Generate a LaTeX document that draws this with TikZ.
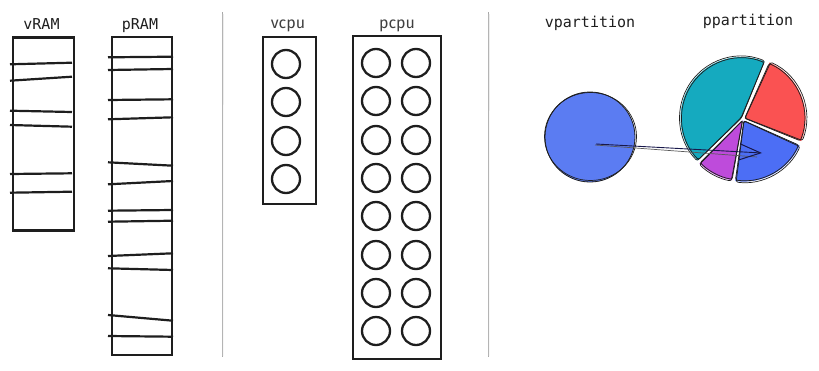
\documentclass[tikz,border=0pt]{standalone}
\usepackage{fontspec}
\setmonofont{DejaVu Sans Mono}
\newfontfamily\cpufont{Fira Sans}
\usetikzlibrary{positioning,arrows.meta}
\definecolor{ink}{HTML}{1E1E1E}
\definecolor{sepgray}{HTML}{A8A8A8}
\definecolor{cyanpart}{HTML}{15AABF}
\definecolor{redpart}{HTML}{FA5252}
\definecolor{bluepart}{HTML}{4C6EF5}
\definecolor{grapepart}{HTML}{BE4BDB}
\definecolor{vpartblue}{HTML}{5B7CF2}
\begin{document}
\begin{tikzpicture}[x=1pt,y=-1pt,
    title/.style={anchor=base,inner sep=0pt,text=ink,font=\ttfamily\fontsize{15}{18}\selectfont},
    cputitle/.style={anchor=base,inner sep=0pt,text=ink!85,font=\cpufont\fontsize{16}{19}\selectfont},
    box/.style={draw=ink,line width=2.4pt,inner sep=0pt},
    cell/.style={ink,line width=2.2pt},
    core/.style={circle,draw=ink,line width=2.3pt,minimum size=28pt,inner sep=0pt},
    sketch/.style={ink,line width=0.7pt,line join=round,rounded corners=2pt}]
  \useasboundingbox (0,0) rectangle (819,370);
  \foreach \x in {222,488} {
    \draw[sepgray,line width=0.8pt] (\x,12) -- (\x,357);
    \draw[sepgray!60,line width=0.6pt] (\x+1,14) -- (\x+0.8,356);
  }
  \node[box,minimum width=61pt,minimum height=193pt] (vram) at (43.5,134) {};
  \node[box,minimum width=60pt,minimum height=318pt] (pram) at (142,196) {};
  \node[title] (vramtitle) at (41.5,29) {vRAM};
  \node[title] (pramtitle) at (140,29) {pRAM};
  \foreach \ya/\yb in {64.3/62.7,80.7/76.7,110.7/112,125/126.7,174/173.3,192.7/191.7}
    \draw[cell] (10,\ya) -- (72,\yb);
  \foreach \ya/\yb in {57.3/56.7,70/69,100/99.3,119.3/117.3,162.3/165.7,184.3/181,
                       210.7/210,221.7/220.7,256/253.3,268.3/270,315/320.7,336/336.7}
    \draw[cell] (108,\ya) -- (173,\yb);
  \node[box,minimum width=53pt,minimum height=167pt] (vcpu) at (289.5,120.5) {};
  \node[box,minimum width=88pt,minimum height=323pt] (pcpu) at (397,197.5) {};
  \node[cputitle] (vcputitle) at (288,28) {vcpu};
  \node[cputitle] (pcputitle) at (397,28) {pcpu};
  \foreach \y [count=\i] in {64,102,141,179}
    \node[core] (vcore\i) at (286,\y) {};
  \foreach \y [count=\i] in {63,101,140,178,216,255,293,331} {
    \node[core] (pcoreA\i) at (376,\y) {};
    \node[core] (pcoreB\i) at (416,\y) {};
  }
  \node[title] (vparttitle) at (590,27) {vpartition};
  \node[title] (pparttitle) at (748,25) {ppartition};
  \node[circle,fill=vpartblue,draw=ink,line width=0.8pt,minimum size=90pt,inner sep=0pt] (vpart) at (590,137) {};
  \draw[sketch] (590.5,136.5) ellipse [x radius=46, y radius=44];
  \foreach \col/\a/\b/\dx/\dy in {cyanpart/-68/-224/-1.5/-1,redpart/-66/22/1.6/-0.7,
                                   bluepart/24/98/0.8/1.6,grapepart/100/135/-0.4/1.2} {
    \fill[\col] (743+\dx,119+\dy) -- ++(\a:61) arc[start angle=\a,end angle=\b,radius=61] -- cycle;
    \draw[sketch] (743+\dx,119+\dy) -- ++(\a:60) arc[start angle=\a,end angle=\b,radius=60] -- cycle;
    \draw[sketch] (743+1.3*\dx,119+1.3*\dy) -- ++(\a+0.6:61.5) arc[start angle=\a+0.6,end angle=\b-0.6,radius=61.5] -- cycle;
  }
  \coordinate (parttip) at (762,153);
  \draw[gray!70!black,line width=0.7pt] ([shift={(5,8)}]vpart.center) -- (757,157);
  \draw[ink!80!blue,line width=0.9pt,-{Straight Barb[length=21pt,width=16pt,line width=1pt]}]
    ([shift={(6,7)}]vpart.center) -- (parttip);
\end{tikzpicture}
\end{document}
